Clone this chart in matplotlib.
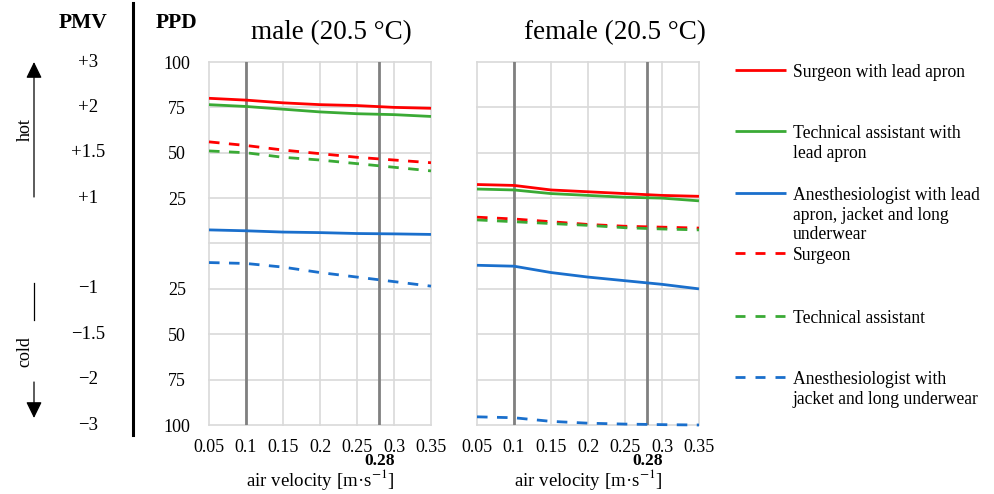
import matplotlib
matplotlib.use('Agg')
from matplotlib import pyplot as plt
from matplotlib.lines import Line2D
from matplotlib.patches import FancyArrowPatch
from matplotlib import transforms

plt.rcParams['font.family'] = ['Liberation Serif', 'DejaVu Serif']
plt.rcParams['mathtext.fontset'] = 'stix'

air_velocity = [0.05, 0.1, 0.15, 0.2, 0.25, 0.3, 0.35]
marked_velocities = [0.1, 0.28]

# PPD in %; positive = warm side (PMV > 0), negative = cold side (PMV < 0)
male_surgeon_apron = [80, 79, 77.5, 76.5, 76, 75, 74.5]
male_assistant_apron = [76.5, 75.5, 74, 72.5, 71.5, 71, 70]
male_anest_apron = [7.5, 7, 6.3, 6, 5.5, 5.3, 5]
male_surgeon = [56, 54, 51.5, 49.5, 47.5, 46, 44.5]
male_assistant = [51, 50, 47.5, 46, 44, 42, 40]
male_anest = [-10.5, -11, -13, -16, -18.5, -21, -23.5]

female_surgeon_apron = [32.5, 32, 29.5, 28.5, 27.5, 26.5, 26]
female_assistant_apron = [30, 29.5, 27.5, 26.5, 25.5, 25, 23.5]
female_anest_apron = [-12, -12.5, -16, -18.5, -20.5, -22.5, -25]
female_surgeon = [14.5, 13.5, 12, 10.5, 9.5, 9, 8.5]
female_assistant = [13, 12, 11, 10, 8.7, 8, 7.5]
female_anest = [-95.5, -96, -98, -99, -99.5, -99.8, -100]

series_labels = [
    'Surgeon with lead apron',
    'Technical assistant with\nlead apron',
    'Anesthesiologist with lead\napron, jacket and long\nunderwear',
    'Surgeon',
    'Technical assistant',
    'Anesthesiologist with\njacket and long underwear',
]
series_colors = ['#FF0000', '#3AAA35', '#1A6FCC', '#FF0000', '#3AAA35', '#1A6FCC']
series_dashed = [False, False, False, True, True, True]

ppd_ticks = [100, 75, 50, 25, 0, -25, -50, -75, -100]
ppd_ticklabels = ['100', '75', '50', '25', '', '25', '50', '75', '100']
pmv_labels = ['+3', '+2', '+1.5', '+1', '', '\u22121', '\u22121.5', '\u22122', '\u22123']

panels = [
    ('male (20.5 \u00b0C)',
     [male_surgeon_apron, male_assistant_apron, male_anest_apron,
      male_surgeon, male_assistant, male_anest]),
    ('female (20.5 \u00b0C)',
     [female_surgeon_apron, female_assistant_apron, female_anest_apron,
      female_surgeon, female_assistant, female_anest]),
]

W, H = 994, 494
fig = plt.figure(figsize=(W / 100, H / 100), dpi=100)


def fx(px):
    return px / W


def fy(py):
    return 1 - py / H


lw = 2.0
dash = (3.8, 3.4)
axes = []
for i, (title, series) in enumerate(panels):
    left = [209, 477][i]
    ax = fig.add_axes([fx(left), fy(425), 222 / W, 363 / H])
    axes.append(ax)
    for vals, col, dashed in zip(series, series_colors, series_dashed):
        ln, = ax.plot(air_velocity, vals, color=col, lw=lw, zorder=3,
                      solid_capstyle='butt', clip_on=False)
        if dashed:
            ln.set_dashes(dash)
    for v in marked_velocities:
        ax.axvline(v, color='#808080', lw=2.0, zorder=2)
    ax.set_xlim(0.05, 0.35)
    ax.set_ylim(-100, 100)
    ax.set_xticks(air_velocity)
    ax.set_xticklabels([f'{v:g}' for v in air_velocity])
    ax.set_yticks(ppd_ticks)
    ax.grid(True, color='#D9D9D9', lw=1.2, zorder=1)
    ax.set_axisbelow(True)
    for gl in ax.get_xgridlines() + ax.get_ygridlines():
        gl.set_clip_on(False)
    for s in ax.spines.values():
        s.set_visible(False)
    ax.tick_params(length=0, labelsize=13, pad=10)
    if i == 0:
        ax.set_yticklabels(ppd_ticklabels)
        ax.tick_params(axis='y', pad=23)
        for lbl in ax.get_yticklabels():
            lbl.set_ha('center')
    else:
        ax.tick_params(axis='y', labelleft=False)
    xt = ax.get_xaxis_transform()
    ax.text(0.28, -0.11, '0.28', transform=xt, ha='center', va='baseline',
            fontsize=12.6, fontweight='bold')
    ax.text(0.5, -0.1846, 'air velocity [m\u00b7s$^{-1}$]', transform=ax.transAxes,
            ha='center', va='bottom', fontsize=13.6)
    fig.text(fx([331, 615][i]), fy(33), title, ha='center', va='center', fontsize=19.5)

# PMV scale next to the PPD scale
bt = transforms.blended_transform_factory(fig.transFigure, axes[0].transData)
for y, lab in zip(ppd_ticks, pmv_labels):
    fig.text(fx(88), y, lab, transform=bt, ha='center', va='center', fontsize=13.5)

fig.text(fx(83), fy(23), 'PMV', ha='center', va='center', fontsize=15.5, fontweight='bold')
fig.text(fx(176), fy(23), 'PPD', ha='center', va='center', fontsize=15.5, fontweight='bold')
fig.add_artist(Line2D([fx(133), fx(133)], [fy(3), fy(435)], color='black', lw=2.2,
                      transform=fig.transFigure))

# hot / cold arrows
fig.add_artist(FancyArrowPatch((fx(34), fy(197)), (fx(34), fy(62)), transform=fig.transFigure,
                               arrowstyle='-|>,head_length=0.45,head_width=0.22',
                               mutation_scale=22, lw=0.9, color='black',
                               shrinkA=0, shrinkB=0))
fig.text(fx(25), fy(130), 'hot', rotation=90, ha='center', va='center', fontsize=13)
fig.add_artist(Line2D([fx(34), fx(34)], [fy(283), fy(320)], color='black', lw=0.9,
                      transform=fig.transFigure))
fig.add_artist(FancyArrowPatch((fx(34), fy(382)), (fx(34), fy(418)), transform=fig.transFigure,
                               arrowstyle='-|>,head_length=0.45,head_width=0.22',
                               mutation_scale=22, lw=0.9, color='black',
                               shrinkA=0, shrinkB=0))
fig.text(fx(25), fy(352), 'cold', rotation=90, ha='center', va='center', fontsize=13)

# legend
legend_y = [70, 131, 193, 253, 316, 377]
for yy, lab, col, dashed in zip(legend_y, series_labels, series_colors, series_dashed):
    ln = Line2D([fx(735), fx(786)], [fy(yy), fy(yy)], color=col, lw=lw,
                transform=fig.transFigure, solid_capstyle='butt')
    if dashed:
        ln.set_dashes((3.6, 3.6))
    fig.add_artist(ln)
    fig.text(fx(793), fy(yy - 6), lab, ha='left', va='top', fontsize=12.7,
             linespacing=1.2)

fig.savefig('out.png', dpi=100)
